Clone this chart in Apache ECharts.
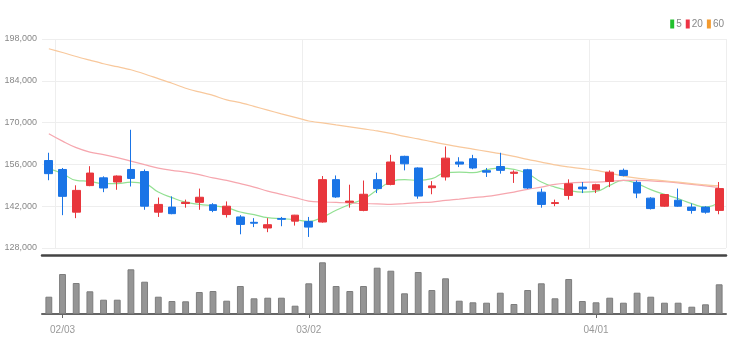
<!DOCTYPE html>
<html>
<head>
    <meta charset="UTF-8">
    <title>주가 차트</title>
    <script src="https://cdn.jsdelivr.net/npm/echarts@6/dist/echarts.min.js"></script>
    <style>
        html, body { margin: 0; padding: 0; background: #fff; }
        #chart { width: 743px; height: 354px; }
    </style>
</head>
<body>
    <div id="chart"></div>

    <script>
        // 거래일 (2022.01.28 ~ 2022.04.14)
        const dates = [
            '01/28', '02/03', '02/04', '02/07', '02/08', '02/09', '02/10', '02/11',
            '02/14', '02/15', '02/16', '02/17', '02/18', '02/21', '02/22', '02/23',
            '02/24', '02/25', '02/28', '03/02', '03/03', '03/04', '03/07', '03/08',
            '03/10', '03/11', '03/14', '03/15', '03/16', '03/17', '03/18', '03/21',
            '03/22', '03/23', '03/24', '03/25', '03/28', '03/29', '03/30', '03/31',
            '04/01', '04/04', '04/05', '04/06', '04/07', '04/08', '04/11', '04/12',
            '04/13', '04/14'
        ];
        const monthStarts = ['02/03', '03/02', '04/01'];

        const opens = [
            157300, 154300, 140000, 148900, 151500, 150100, 154300, 153600, 140000, 141700,
            142900, 143300, 142500, 139200, 138400, 136600, 134700, 137900, 137000, 136900,
            136700, 150900, 143300, 140600, 150900, 149300, 158700, 154800, 148200, 151800,
            156800, 157900, 153900, 155300, 153000, 154200, 146700, 142900, 145600, 148400,
            147500, 150300, 154000, 150000, 144700, 142000, 144000, 141700, 141700, 140600
        ];
        const closes = [
            152900, 145300, 147300, 153100, 148100, 152100, 151300, 142000, 142600, 139500,
            143300, 145000, 140600, 142000, 135900, 136300, 135800, 137600, 139000, 135000,
            150900, 145100, 143700, 146000, 147900, 156800, 156200, 145400, 148800, 158100,
            156100, 154800, 153400, 154000, 153400, 148100, 142600, 143200, 149500, 147800,
            149200, 153400, 152300, 146400, 141200, 145900, 142000, 140600, 140000, 147900
        ];
        const lows = [
            150700, 139000, 138000, 148700, 146700, 147500, 148600, 140800, 138400, 139300,
            141500, 140800, 140000, 138200, 132600, 135000, 133300, 135300, 135500, 131700,
            136500, 144800, 141500, 140300, 146400, 149000, 154000, 144500, 146000, 150600,
            155100, 154400, 151800, 152900, 149800, 147800, 141500, 142000, 144200, 146400,
            146400, 148400, 152000, 144700, 140900, 141800, 141800, 139500, 139500, 139300
        ];
        const highs = [
            159900, 154800, 149000, 155400, 152000, 152300, 167600, 154300, 144900, 145300,
            144200, 147900, 143000, 143600, 139000, 138000, 138000, 138400, 139100, 138400,
            152100, 152300, 149200, 150600, 153200, 159200, 158900, 155000, 150400, 162000,
            158400, 159200, 154800, 159900, 154000, 154500, 147900, 144200, 151000, 150100,
            149500, 154000, 154600, 150600, 145000, 146100, 147900, 142900, 142000, 150100
        ];

        // 이동평균선
        const ma5 = [
            154570, 152900, 150650, 150320, 149550, 149550, 150090, 149550, 146740, 144870,
            143390, 142620, 142120, 141520, 140050, 139180, 138170, 137840, 137500, 136940,
            138370, 140620, 142620, 144400, 147410, 150090, 150890, 150650, 151220, 153230,
            153430, 153230, 154230, 154770, 154340, 152900, 150090, 148410, 147310, 146740,
            146970, 148980, 150650, 149550, 147540, 145970, 144530, 142860, 141720, 143390
        ];
        const ma20 = [
            166280, 163800, 161600, 160120, 159250, 158250, 157110, 155910, 154770, 154000,
            153430, 152560, 151490, 150650, 149550, 148410, 147070, 145970, 144870, 143730,
            143390, 143290, 143060, 142860, 142790, 142620, 142860, 143190, 143390, 143960,
            144400, 144870, 145300, 145970, 146740, 147640, 148410, 149320, 149750, 149980,
            150090, 150320, 150650, 150650, 150480, 150200, 149800, 149300, 148800, 148200
        ];
        const ma60 = [
            194720, 193480, 192140, 190910, 189700, 188730, 187690, 186290, 184720, 183180,
            181500, 180270, 179100, 177590, 176690, 175410, 174180, 172940, 171770, 170530,
            169890, 169220, 168560, 167890, 167220, 166380, 165380, 164540, 163600, 162700,
            161860, 161130, 160360, 159590, 158680, 157680, 156780, 155840, 155170, 154570,
            154000, 153100, 152090, 151390, 150920, 150490, 150050, 149580, 149110, 148810
        ];

        // 거래량
        const volumes = [
            173000, 400000, 310000, 227000, 143000, 143000, 447000, 323000, 173000, 130000,
            127000, 220000, 230000, 133000, 280000, 157000, 163000, 163000, 83000, 307000,
            517000, 280000, 230000, 280000, 463000, 433000, 207000, 420000, 240000, 357000,
            133000, 117000, 113000, 213000, 100000, 240000, 307000, 157000, 350000, 130000,
            117000, 163000, 113000, 213000, 173000, 113000, 113000, 73000, 97000, 297000
        ];

        const upColor = '#e8363c';
        const downColor = '#1a74e6';

        const candles = dates.map((d, i) => [opens[i], closes[i], lows[i], highs[i]]);
        const isMonthStart = (i, v) => monthStarts.includes(v);
        const labelFont = 'Liberation Sans Narrow, Liberation Sans, sans-serif';

        const chart = echarts.init(document.getElementById('chart'));

        function maSeries(name, data, iconColor, lineColor, smooth) {
            return {
                name: name,
                type: 'line',
                xAxisIndex: 0,
                yAxisIndex: 0,
                data: data,
                smooth: smooth,
                showSymbol: false,
                silent: true,
                itemStyle: { color: iconColor },
                lineStyle: { color: lineColor, width: 1.2 },
                z: 1
            };
        }

        chart.setOption({
            animation: false,
            legend: {
                right: 14,
                top: 14,
                icon: 'rect',
                itemWidth: 4,
                itemHeight: 9,
                itemGap: 4,
                textStyle: { color: '#888', fontSize: 10, fontFamily: labelFont, padding: [0, 0, 0, -3] },
                data: ['5', '20', '60']
            },
            grid: [
                { left: 42, right: 17, top: 39, height: 209 },
                { left: 42, right: 17, top: 258, height: 56 }
            ],
            xAxis: [
                {
                    type: 'category',
                    gridIndex: 0,
                    data: dates,
                    boundaryGap: true,
                    offset: 7,
                    axisLine: { lineStyle: { color: '#444', width: 2.5 } },
                    axisTick: { show: false },
                    axisLabel: { show: false },
                    splitLine: {
                        show: true,
                        interval: isMonthStart,
                        lineStyle: { color: '#eee' }
                    }
                },
                {
                    type: 'category',
                    gridIndex: 1,
                    data: dates,
                    boundaryGap: true,
                    axisLine: { lineStyle: { color: '#666', width: 2 } },
                    axisTick: {
                        show: true,
                        alignWithLabel: true,
                        interval: isMonthStart,
                        length: 4,
                        lineStyle: { color: '#666' }
                    },
                    axisLabel: {
                        interval: isMonthStart,
                        color: '#999',
                        fontSize: 10,
                        fontFamily: labelFont,
                        margin: 11
                    },
                    splitLine: { show: false }
                }
            ],
            yAxis: [
                {
                    type: 'value',
                    gridIndex: 0,
                    min: 128000,
                    max: 198000,
                    interval: 14000,
                    axisLine: { show: false },
                    axisTick: { show: false },
                    axisLabel: {
                        color: '#888',
                        fontSize: 9,
                        fontFamily: labelFont,
                        margin: 5,
                        formatter: v => v.toLocaleString('en-US')
                    },
                    splitLine: { lineStyle: { color: '#eee' } }
                },
                {
                    type: 'value',
                    gridIndex: 1,
                    min: 0,
                    max: 560000,
                    show: false,
                    splitLine: { show: false }
                }
            ],
            series: [
                {
                    name: '주가',
                    type: 'candlestick',
                    xAxisIndex: 0,
                    yAxisIndex: 0,
                    data: candles,
                    barWidth: '60%',
                    itemStyle: {
                        color: upColor,
                        color0: downColor,
                        borderColor: upColor,
                        borderColor0: downColor,
                        borderWidth: 1
                    },
                    z: 3
                },
                maSeries('5', ma5, '#22c12e', '#93e093', true),
                maSeries('20', ma20, '#ee3344', '#f6a6ae', 0.4),
                maSeries('60', ma60, '#f39a2e', '#f8c89c', 0.3),
                {
                    name: '거래량',
                    type: 'bar',
                    xAxisIndex: 1,
                    yAxisIndex: 1,
                    data: volumes,
                    barWidth: '50%',
                    itemStyle: { color: '#959595', borderColor: '#7d7d7d', borderWidth: 1 }
                }
            ]
        });
    </script>
</body>
</html>
